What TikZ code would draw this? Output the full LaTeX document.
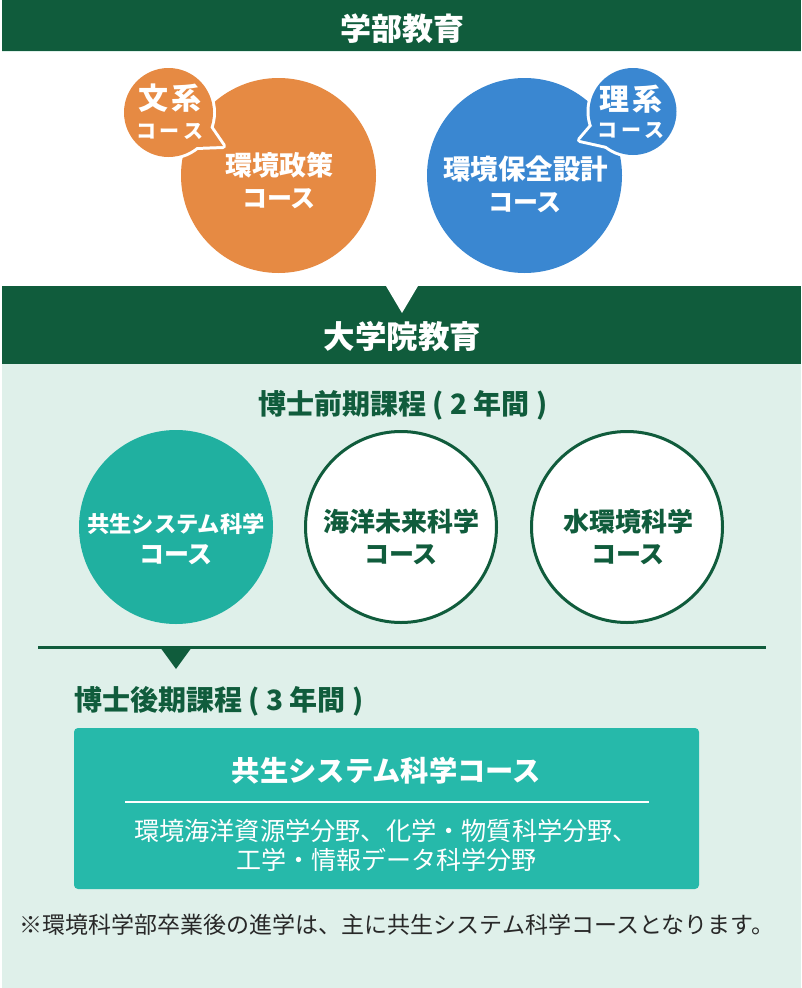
\documentclass[tikz,border=0pt]{standalone}
\usepackage{fontspec}
\setmainfont{Noto Sans CJK JP}
\definecolor{dg}{RGB}{16,92,60}
\definecolor{org}{RGB}{230,138,67}
\definecolor{blu}{RGB}{58,135,209}
\definecolor{tealc}{RGB}{32,176,160}
\definecolor{tealb}{RGB}{38,185,170}
\definecolor{lbg}{RGB}{223,240,234}
\definecolor{ftxt}{RGB}{40,40,40}
\newcommand{\ks}{\hspace{3.5pt}}
\tikzset{
  fsz/.style={font=\fontsize{#1pt}{#1pt}\selectfont\bfseries},
  fsr/.style={font=\fontsize{#1pt}{#1pt}\selectfont},
  lbl/.style={inner sep=0pt, text=white},
  bigc/.style={circle, inner sep=0pt, minimum size=195pt},
  gradc/.style={circle, inner sep=0pt, minimum size=191pt, draw=dg, line width=3pt, fill=white},
}
\begin{document}
\begin{tikzpicture}[x=1pt,y=-1pt]
\useasboundingbox (0,0) rectangle (801,988);
\fill[white] (0,0) rectangle (801,988);
% bars and panels
\fill[dg] (2,0) rectangle (801,51);
\fill[lbg] (2,51) rectangle (801,52.2);
\fill[lbg] (2,364) rectangle (801,988);
\fill[dg] (2,286) rectangle (801,364);
\coordinate (n1) at (386,286);
\coordinate (n2) at (418,286);
\coordinate (n3) at (402,313);
\fill[white] (n1) -- (n2) -- (n3) -- cycle;
\node[lbl, fsz=31] (ug) at (402,29) {学部教育};
\node[lbl, fsz=31.5] (gr) at (402.5,337) {大学院教育};
% orange
\node[bigc, fill=org] (oc) at (278.5,175.5) {};
\coordinate (oa) at (210,127);
\coordinate (ot) at (223,146);
\coordinate (ob) at (196,147);
\draw[white, line width=6pt, line join=round] (168.5,112.5) circle[radius=44.5];
\draw[white, line width=6pt, line join=round] (oa) -- (ot) -- (ob) -- cycle;
\node[circle, inner sep=0pt, minimum size=89pt, fill=org] (os) at (168.5,112.5) {};
\fill[org] (oa) -- (ot) -- (ob) -- cycle;
\node[lbl, fsz=30] (os1) at (170,98.5) {文\hspace{4pt}系};
\node[lbl, fsz=20] (os2) at (169.5,131) {コ\ks ー\ks ス};
\node[lbl, fsz=27] (oc1) at (279,165) {環境政策};
\node[lbl, fsz=25] (oc2) at (279,199) {コース};
% blue
\node[bigc, fill=blu] (bc) at (524.5,175.5) {};
\coordinate (ba) at (592,126);
\coordinate (bt) at (580,140);
\coordinate (bb) at (607,146);
\draw[white, line width=6pt, line join=round] (633,111.5) circle[radius=43.5];
\draw[white, line width=6pt, line join=round] (ba) -- (bt) -- (bb) -- cycle;
\node[circle, inner sep=0pt, minimum size=87pt, fill=blu] (bs) at (633,111.5) {};
\fill[blu] (ba) -- (bt) -- (bb) -- cycle;
\node[lbl, fsz=30] (bs1) at (631,99.5) {理\hspace{4pt}系};
\node[lbl, fsz=20] (bs2) at (631,130) {コ\ks ー\ks ス};
\node[lbl, fsz=27.5] (bc1) at (525.5,169) {環境保全設計};
\node[lbl, fsz=25] (bc2) at (525,203) {コース};
% master
\node[inner sep=0pt, text=dg, fsz=28] (mt) at (403,405) {博士前期課程 ( 2 年間 )};
\node[bigc, minimum size=194pt, fill=tealc] (m1) at (176,527) {};
\node[gradc] (m2) at (401,527) {};
\node[gradc] (m3) at (627,527) {};
\node[lbl, fsz=22.3] (m1a) at (176,524) {共生システム科学};
\node[lbl, fsz=25] (m1b) at (176,555) {コース};
\node[inner sep=0pt, text=dg, fsz=26] (m2a) at (401,522) {海洋未来科学};
\node[inner sep=0pt, text=dg, fsz=25] (m2b) at (401,555) {コース};
\node[inner sep=0pt, text=dg, fsz=26] (m3a) at (628,522) {水環境科学};
\node[inner sep=0pt, text=dg, fsz=25] (m3b) at (628,555) {コース};
% separator
\coordinate (sl) at (38,647.5);
\coordinate (sr) at (766,647.5);
\draw[dg, line width=3.5pt] (sl) -- (sr);
\coordinate (d1) at (160,647);
\coordinate (d2) at (192,647);
\coordinate (d3) at (176,669);
\fill[dg] (d1) -- (d2) -- (d3) -- cycle;
% doctoral
\node[inner sep=0pt, text=dg, fsz=28, anchor=west] (dt) at (74,701) {博士後期課程 ( 3 年間 )};
\node[fill=tealb, rounded corners=4pt, minimum width=625pt, minimum height=161pt, inner sep=0pt] (box) at (386.5,808.5) {};
\node[lbl, fsz=28.3] (bx1) at (386.5,771) {共生システム科学コース};
\coordinate (wl) at (125,801.5);
\coordinate (wr) at (649,801.5);
\draw[white, line width=2pt] (wl) -- (wr);
\node[lbl, fsr=25.2] (bx2) at (386,831) {環境海洋資源学分野、化学・物質科学分野、};
\node[lbl, fsr=25] (bx3) at (386,860) {工学・情報データ科学分野};
\node[inner sep=0pt, text=ftxt, fsr=23] (ft) at (397,925) {※環境科学部卒業後の進学は、主に共生システム科学コースとなります。};
\end{tikzpicture}
\end{document}
